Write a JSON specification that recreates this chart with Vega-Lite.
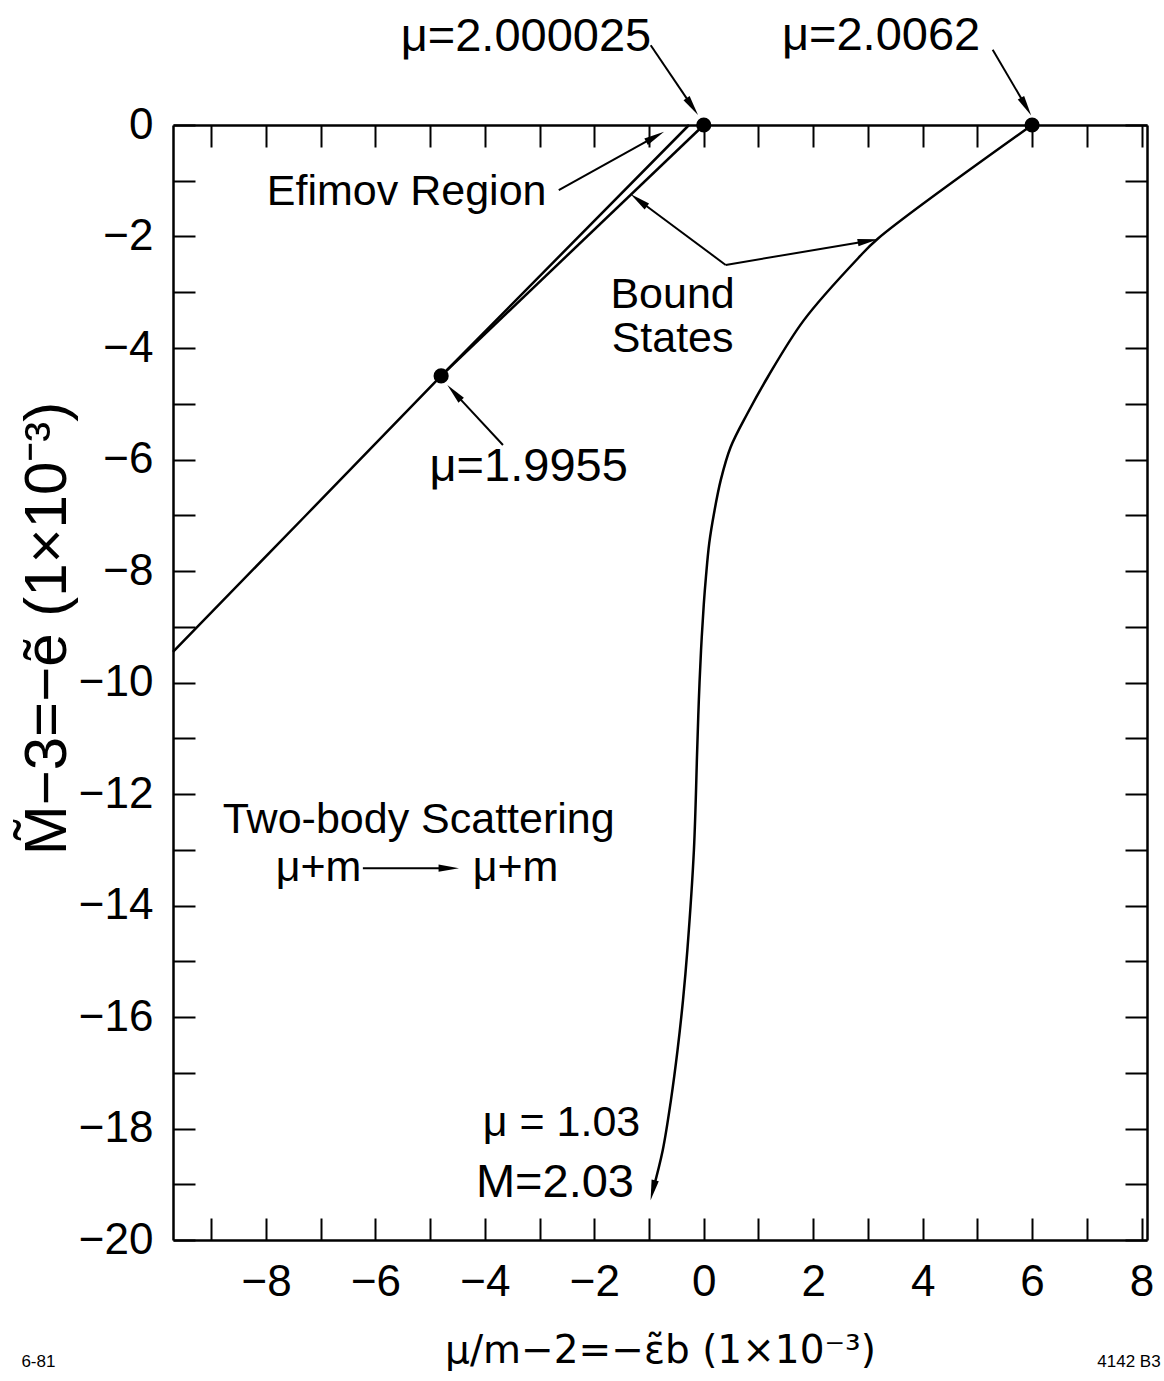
{
  "$schema": "https://vega.github.io/schema/vega-lite/v6.json",
  "autosize": {"type": "none"},
  "padding": {"left": 173, "top": 125, "right": 17, "bottom": 141},
  "width": 974,
  "height": 1115,
  "background": "white",
  "config": {
    "view": {"stroke": null},
    "axis": {
      "grid": false,
      "domainColor": "black",
      "domainWidth": 2.5,
      "tickColor": "black",
      "tickWidth": 2,
      "tickSize": -22,
      "labelFont": "Liberation Sans",
      "labelFontSize": 44,
      "labelColor": "black",
      "titleFont": "Liberation Sans",
      "titleFontSize": 48,
      "titleFontWeight": "normal",
      "titleColor": "black"
    },
    "text": {"font": "Liberation Sans", "fontSize": 43, "color": "black"}
  },
  "datasets": {
    "curves": [
      {"s": "efimovA", "i": 0, "x": -9.7, "y": -9.45},
      {"s": "efimovA", "i": 1, "x": -7.27, "y": -7.0},
      {"s": "efimovA", "i": 2, "x": -4.8, "y": -4.5},
      {"s": "efimovA", "i": 3, "x": -0.27, "y": 0.0},
      {"s": "efimovB", "i": 0, "x": -4.8, "y": -4.5},
      {"s": "efimovB", "i": 1, "x": 0.0, "y": 0.0}
    ],
    "bound": [
      {"i": 0, "x": 6.0, "y": 0.0},
      {"i": 1, "x": 3.18, "y": -2.04},
      {"i": 2, "x": 2.82, "y": -2.39},
      {"i": 3, "x": 1.83, "y": -3.5},
      {"i": 4, "x": 1.17, "y": -4.52},
      {"i": 5, "x": 0.8, "y": -5.17},
      {"i": 6, "x": 0.49, "y": -5.78},
      {"i": 7, "x": 0.31, "y": -6.37},
      {"i": 8, "x": 0.19, "y": -6.95},
      {"i": 9, "x": 0.1, "y": -7.5},
      {"i": 10, "x": 0.04, "y": -8.1},
      {"i": 11, "x": 0.0, "y": -8.6},
      {"i": 12, "x": -0.05, "y": -9.42},
      {"i": 13, "x": -0.09, "y": -10.31},
      {"i": 14, "x": -0.12, "y": -11.2},
      {"i": 15, "x": -0.18, "y": -13.0},
      {"i": 16, "x": -0.3, "y": -14.8},
      {"i": 17, "x": -0.38, "y": -15.7},
      {"i": 18, "x": -0.48, "y": -16.6},
      {"i": 19, "x": -0.6, "y": -17.49},
      {"i": 20, "x": -0.75, "y": -18.39},
      {"i": 21, "x": -0.93, "y": -19.11}
    ],
    "dots": [
      {"label": "μ=2.000025", "x": 0.0, "y": 0.0},
      {"label": "μ=2.0062", "x": 6.0, "y": 0.0},
      {"label": "μ=1.9955", "x": -4.8, "y": -4.5}
    ],
    "arrows": [
      {"x": -0.97, "y": 1.43, "x2": -0.21, "y2": 0.33},
      {"x": 5.28, "y": 1.35, "x2": 5.89, "y2": 0.33},
      {"x": -2.65, "y": -1.17, "x2": -0.89, "y2": -0.21},
      {"x": 0.4, "y": -2.51, "x2": -1.19, "y2": -1.35},
      {"x": 0.4, "y": -2.51, "x2": 3.0, "y2": -2.08},
      {"x": -3.67, "y": -5.74, "x2": -4.56, "y2": -4.8},
      {"x": -6.23, "y": -13.33, "x2": -4.75, "y2": -13.33}
    ],
    "heads": [
      {"x": -0.21, "y": 0.33, "heading": 146},
      {"x": 5.89, "y": 0.33, "heading": 150},
      {"x": -0.89, "y": -0.21, "heading": 61},
      {"x": -1.19, "y": -1.35, "heading": -53},
      {"x": 3.0, "y": -2.08, "heading": 80},
      {"x": -4.56, "y": -4.8, "heading": -42.5},
      {"x": -0.93, "y": -19.11, "heading": 193},
      {"x": -4.66, "y": -13.33, "heading": 90}
    ],
    "labels": [
      {"t": "Efimov Region", "x": -5.43, "y": -1.2},
      {"t": "Bound\nStates", "x": -0.57, "y": -3.05},
      {"t": "Two-body Scattering", "x": -5.21, "y": -12.47},
      {"t": "μ+m", "x": -7.04, "y": -13.33},
      {"t": "μ+m", "x": -3.44, "y": -13.33},
      {"t": "μ = 1.03", "x": -2.6, "y": -17.9}
    ],
    "biglabels": [
      {"t": "μ=2.000025", "x": -3.25, "y": 1.58},
      {"t": "μ=2.0062", "x": 3.24, "y": 1.6},
      {"t": "μ=1.9955", "x": -3.2, "y": -6.13},
      {"t": "M=2.03", "x": -2.72, "y": -18.98}
    ],
    "notes": [
      {"t": "6-81", "x": -12.16, "y": -22.19},
      {"t": "4142 B3", "x": 7.77, "y": -22.19}
    ]
  },
  "layer": [
    {
      "data": {"name": "curves"},
      "mark": {"type": "line", "color": "black", "strokeWidth": 2.5},
      "encoding": {
        "x": {
          "field": "x", "type": "quantitative",
          "scale": {"domain": [-9.7, 8.1], "nice": false, "zero": false},
          "axis": {
            "orient": "bottom",
            "values": [-9, -8, -7, -6, -5, -4, -3, -2, -1, 0, 1, 2, 3, 4, 5, 6, 7, 8],
            "labelExpr": "datum.value % 2 == 0 ? datum.label : ''",
            "labelPadding": 42,
            "titlePadding": 27,
            "titleFont": "DejaVu Sans",
            "titleFontSize": 39,
            "title": "μ/m−2=−ε̃b (1×10⁻³)"
          }
        },
        "y": {
          "field": "y", "type": "quantitative",
          "scale": {"domain": [-20, 0], "nice": false, "zero": false},
          "axis": {
            "orient": "left",
            "values": [-20, -19, -18, -17, -16, -15, -14, -13, -12, -11, -10, -9, -8, -7, -6, -5, -4, -3, -2, -1, 0],
            "labelExpr": "datum.value % 2 == 0 ? datum.label : ''",
            "labelPadding": 42,
            "titlePadding": 0,
            "titleFontSize": 60,
            "titleY": 503,
            "title": "M̃−3=−ẽ  (1×10⁻³)"
          }
        },
        "detail": {"field": "s"},
        "order": {"field": "i", "type": "quantitative"}
      }
    },
    {
      "data": {"name": "dots"},
      "mark": {"type": "circle", "color": "black", "size": 230, "opacity": 1},
      "encoding": {
        "x": {
          "field": "x", "type": "quantitative",
          "scale": {"domain": [-9.7, 8.1], "nice": false, "zero": false},
          "axis": {
            "orient": "top",
            "values": [-9, -8, -7, -6, -5, -4, -3, -2, -1, 0, 1, 2, 3, 4, 5, 6, 7, 8],
            "labels": false,
            "title": null
          }
        },
        "y": {
          "field": "y", "type": "quantitative",
          "scale": {"domain": [-20, 0], "nice": false, "zero": false},
          "axis": {
            "orient": "right",
            "values": [-20, -19, -18, -17, -16, -15, -14, -13, -12, -11, -10, -9, -8, -7, -6, -5, -4, -3, -2, -1, 0],
            "labels": false,
            "title": null
          }
        }
      }
    },
    {
      "data": {"name": "bound"},
      "mark": {"type": "line", "color": "black", "strokeWidth": 2.5, "interpolate": "catmull-rom"},
      "encoding": {
        "x": {"field": "x", "type": "quantitative", "scale": {"domain": [-9.7, 8.1], "nice": false, "zero": false}, "axis": null},
        "y": {"field": "y", "type": "quantitative", "scale": {"domain": [-20, 0], "nice": false, "zero": false}, "axis": null},
        "order": {"field": "i", "type": "quantitative"}
      }
    },
    {
      "data": {"name": "arrows"},
      "mark": {"type": "rule", "color": "black", "strokeWidth": 2},
      "encoding": {
        "x": {"field": "x", "type": "quantitative", "scale": {"domain": [-9.7, 8.1], "nice": false, "zero": false}, "axis": null},
        "y": {"field": "y", "type": "quantitative", "scale": {"domain": [-20, 0], "nice": false, "zero": false}, "axis": null},
        "x2": {"field": "x2"},
        "y2": {"field": "y2"}
      }
    },
    {
      "data": {"name": "heads"},
      "mark": {"type": "point", "shape": "M0,-1L-0.36,1L0.36,1Z", "filled": true, "color": "black", "size": 420, "opacity": 1},
      "encoding": {
        "x": {"field": "x", "type": "quantitative", "scale": {"domain": [-9.7, 8.1], "nice": false, "zero": false}, "axis": null},
        "y": {"field": "y", "type": "quantitative", "scale": {"domain": [-20, 0], "nice": false, "zero": false}, "axis": null},
        "angle": {"field": "heading", "type": "quantitative", "scale": null}
      }
    },
    {
      "data": {"name": "labels"},
      "mark": {"type": "text", "align": "center", "baseline": "middle", "fontSize": 43, "lineBreak": "\n", "lineHeight": 44},
      "encoding": {
        "x": {"field": "x", "type": "quantitative", "scale": {"domain": [-9.7, 8.1], "nice": false, "zero": false}, "axis": null},
        "y": {"field": "y", "type": "quantitative", "scale": {"domain": [-20, 0], "nice": false, "zero": false}, "axis": null},
        "text": {"field": "t"}
      }
    },
    {
      "data": {"name": "biglabels"},
      "mark": {"type": "text", "align": "center", "baseline": "middle", "fontSize": 47},
      "encoding": {
        "x": {"field": "x", "type": "quantitative", "scale": {"domain": [-9.7, 8.1], "nice": false, "zero": false}, "axis": null},
        "y": {"field": "y", "type": "quantitative", "scale": {"domain": [-20, 0], "nice": false, "zero": false}, "axis": null},
        "text": {"field": "t"}
      }
    },
    {
      "data": {"name": "notes"},
      "mark": {"type": "text", "align": "center", "baseline": "middle", "fontSize": 17},
      "encoding": {
        "x": {"field": "x", "type": "quantitative", "scale": {"domain": [-9.7, 8.1], "nice": false, "zero": false}, "axis": null},
        "y": {"field": "y", "type": "quantitative", "scale": {"domain": [-20, 0], "nice": false, "zero": false}, "axis": null},
        "text": {"field": "t"}
      }
    }
  ],
  "resolve": {"axis": {"x": "independent", "y": "independent"}}
}
